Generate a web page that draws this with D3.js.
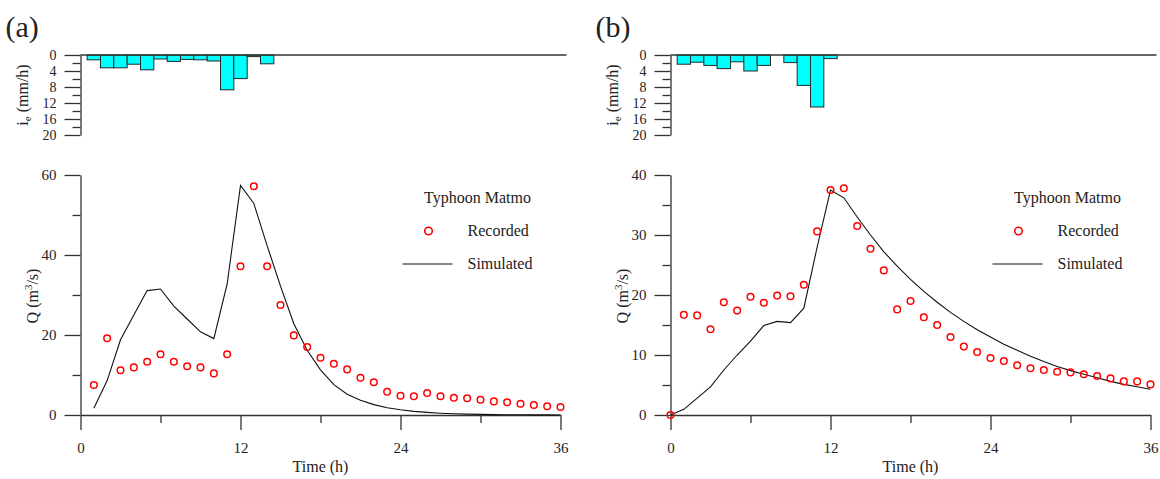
<!DOCTYPE html>
<html>
<head>
<meta charset="utf-8">
<script src="https://cdn.jsdelivr.net/npm/d3@7"></script>
<style>
  body { margin: 0; background: #fff; }
  svg text { font-family: "Liberation Serif", "DejaVu Serif", serif; fill: #222; }
  .axis path, .axis line { stroke: #333; stroke-width: 1.3px; }
  .axis text { font-family: "Liberation Serif", serif; fill: #222; }
</style>
</head>
<body>
<div id="chart"></div>
<script>
// rainfall excess (mm/h), one bar per hour starting at hour 1
var rainA = [1.2, 3.2, 3.2, 2.3, 3.7, 1.0, 1.6, 1.1, 1.2, 1.5, 8.7, 5.9, 0.4, 2.2]
var rainB = [2.3, 1.8, 2.6, 3.4, 1.7, 4.0, 2.6, 0, 1.9, 7.6, 13.0, 0.9]

// discharge (m3/s), panel a starts at hour 1, panel b at hour 0
var recordedA = [7.5, 19.2, 11.2, 11.9, 13.3, 15.2, 13.3, 12.2, 11.9, 10.4, 15.2, 37.2, 57.2, 37.2,
    27.5, 19.9, 17.0, 14.3, 12.8, 11.4, 9.3, 8.2, 5.8, 4.8, 4.7, 5.5, 4.7, 4.3, 4.2, 3.8,
    3.4, 3.2, 2.8, 2.5, 2.2, 2.0]
var simulatedA = [1.7, 8.6, 18.8, 25.0, 31.1, 31.5, 27.2, 24.0, 20.8, 19.1, 32.8, 57.4, 52.9, 42.3,
    32.2, 22.8, 16.2, 11.3, 7.6, 5.2, 3.7, 2.6, 1.8, 1.3, 0.9, 0.65, 0.45, 0.32, 0.22, 0.15,
    0.1, 0.07, 0.05, 0.03, 0.02, 0.01]
var recordedB = [0, 16.7, 16.6, 14.3, 18.8, 17.4, 19.7, 18.7, 19.9, 19.8, 21.7, 30.6, 37.5, 37.8,
    31.5, 27.7, 24.1, 17.6, 19.0, 16.3, 15.0, 13.0, 11.4, 10.5, 9.5, 9.0, 8.3, 7.8, 7.5, 7.2,
    7.1, 6.8, 6.5, 6.1, 5.6, 5.6, 5.1]
var simulatedB = [0, 0.95, 2.8, 4.7, 7.5, 10.0, 12.3, 14.9, 15.6, 15.4, 17.8, 28.0, 37.5, 36.2,
    33.0, 30.0, 27.2, 24.8, 22.6, 20.6, 18.8, 17.1, 15.6, 14.2, 13.0, 11.8, 10.8, 9.8, 8.9, 8.1,
    7.4, 6.8, 6.2, 5.6, 5.1, 4.7, 4.3]

var timeTicks = [0, 12, 24, 36]
var timeMinor = [6, 18, 30]
var rainTicks = [0, 4, 8, 12, 16, 20]
var rainMinor = [2, 6, 10, 14, 18]
var qTicksA = [0, 20, 40, 60]
var qMinorA = [10, 30, 50]
var qTicksB = [0, 10, 20, 30, 40]
var qMinorB = [5, 15, 25, 35]

var svg = d3.select("#chart").append("svg")
    .attr("width", 1160)
    .attr("height", 479)

function drawPanel(p) {
    var g = svg.append("g").attr("transform", "translate(" + p.left + ",0)")

    var x = d3.scaleLinear().domain([0, 36]).range([0, 480])
    var yr = d3.scaleLinear().domain([0, 20]).range([55, 135])
    var y = d3.scaleLinear().domain([0, p.qMax]).range([415, 175])

    // panel letter
    svg.append("text")
        .attr("x", p.left - 75)
        .attr("y", 37)
        .style("font-size", "30px")
        .text(p.label)

    // ---- hyetograph
    g.selectAll(".bar").data(p.rain).enter()
        .append("rect")
        .attr("class", "bar")
        .attr("x", function(d, i) { return x(i + 0.5) })
        .attr("y", yr(0))
        .attr("width", x(1) - x(0))
        .attr("height", function(d) { return yr(d) - yr(0) })
        .attr("fill", "#00ffff")
        .attr("stroke", "#1e2b2b")
        .attr("stroke-width", 1)
        .style("display", function(d) { return d > 0 ? null : "none" })

    g.append("line")
        .attr("x1", x(0)).attr("x2", x(36) + 6)
        .attr("y1", yr(0)).attr("y2", yr(0))
        .attr("stroke", "#333").attr("stroke-width", 1.3)

    g.append("g").attr("class", "axis")
        .call(d3.axisLeft(yr).tickValues(rainTicks).tickSize(16).tickSizeOuter(0).tickPadding(8))
        .call(function(a) { a.selectAll("text").style("font-size", "14px") })
    g.append("g").attr("class", "axis")
        .call(d3.axisLeft(yr).tickValues(rainMinor).tickSize(8).tickSizeOuter(0).tickFormat(""))
        .call(function(a) { a.select(".domain").remove() })

    var ie = g.append("text")
        .attr("transform", "translate(-53," + 95 + ") rotate(-90)")
        .attr("text-anchor", "middle")
        .style("font-size", "16px")
    ie.append("tspan").text("i")
    ie.append("tspan").attr("dy", 3).style("font-size", "11px").text("e")
    ie.append("tspan").attr("dy", -3).text(" (mm/h)")

    // ---- hydrograph axes
    g.append("g").attr("class", "axis")
        .attr("transform", "translate(0,415)")
        .call(d3.axisBottom(x).tickValues(timeTicks).tickSize(15).tickSizeOuter(0).tickPadding(12))
        .call(function(a) { a.selectAll("text").style("font-size", "15px") })
    g.append("g").attr("class", "axis")
        .attr("transform", "translate(0,415)")
        .call(d3.axisBottom(x).tickValues(timeMinor).tickSize(8).tickSizeOuter(0).tickFormat(""))
        .call(function(a) { a.select(".domain").remove() })

    g.append("g").attr("class", "axis")
        .call(d3.axisLeft(y).tickValues(p.qTicks).tickSize(16).tickSizeOuter(0).tickPadding(8))
        .call(function(a) { a.selectAll("text").style("font-size", "15px") })
    g.append("g").attr("class", "axis")
        .call(d3.axisLeft(y).tickValues(p.qMinor).tickSize(8).tickSizeOuter(0).tickFormat(""))
        .call(function(a) { a.select(".domain").remove() })

    g.append("text")
        .attr("x", x(18))
        .attr("y", 472)
        .attr("text-anchor", "middle")
        .style("font-size", "16px")
        .text("Time (h)")

    var ql = g.append("text")
        .attr("transform", "translate(-43,296) rotate(-90)")
        .attr("text-anchor", "middle")
        .style("font-size", "16px")
    ql.append("tspan").text("Q (m")
    ql.append("tspan").attr("dy", -6).style("font-size", "11px").text("3")
    ql.append("tspan").attr("dy", 6).text("/s)")

    // ---- series
    var line = d3.line()
        .x(function(d, i) { return x(i + p.t0) })
        .y(function(d) { return y(d) })

    g.append("path")
        .datum(p.simulated)
        .attr("d", line)
        .attr("fill", "none")
        .attr("stroke", "#111")
        .attr("stroke-width", 1.1)

    g.selectAll(".dot").data(p.recorded).enter()
        .append("circle")
        .attr("class", "dot")
        .attr("cx", function(d, i) { return x(i + p.t0) })
        .attr("cy", function(d) { return y(d) })
        .attr("r", 3.3)
        .attr("fill", "none")
        .attr("stroke", "#ff0000")
        .attr("stroke-width", 1.5)

    // ---- legend
    g.append("text")
        .attr("x", 397).attr("y", 203)
        .attr("text-anchor", "middle")
        .style("font-size", "16px")
        .text("Typhoon Matmo")
    g.append("circle")
        .attr("cx", 348).attr("cy", 231).attr("r", 3.8)
        .attr("fill", "none").attr("stroke", "#ff0000").attr("stroke-width", 1.6)
    g.append("text")
        .attr("x", 387).attr("y", 236)
        .style("font-size", "16px")
        .text("Recorded")
    g.append("line")
        .attr("x1", 322).attr("x2", 372)
        .attr("y1", 264).attr("y2", 264)
        .attr("stroke", "#111").attr("stroke-width", 1.1)
    g.append("text")
        .attr("x", 387).attr("y", 269)
        .style("font-size", "16px")
        .text("Simulated")
}

drawPanel({ left: 80.5, label: "(a)", rain: rainA, recorded: recordedA, simulated: simulatedA,
    t0: 1, qMax: 60, qTicks: qTicksA, qMinor: qMinorA })
drawPanel({ left: 670.5, label: "(b)", rain: rainB, recorded: recordedB, simulated: simulatedB,
    t0: 0, qMax: 40, qTicks: qTicksB, qMinor: qMinorB })
</script>
</body>
</html>
